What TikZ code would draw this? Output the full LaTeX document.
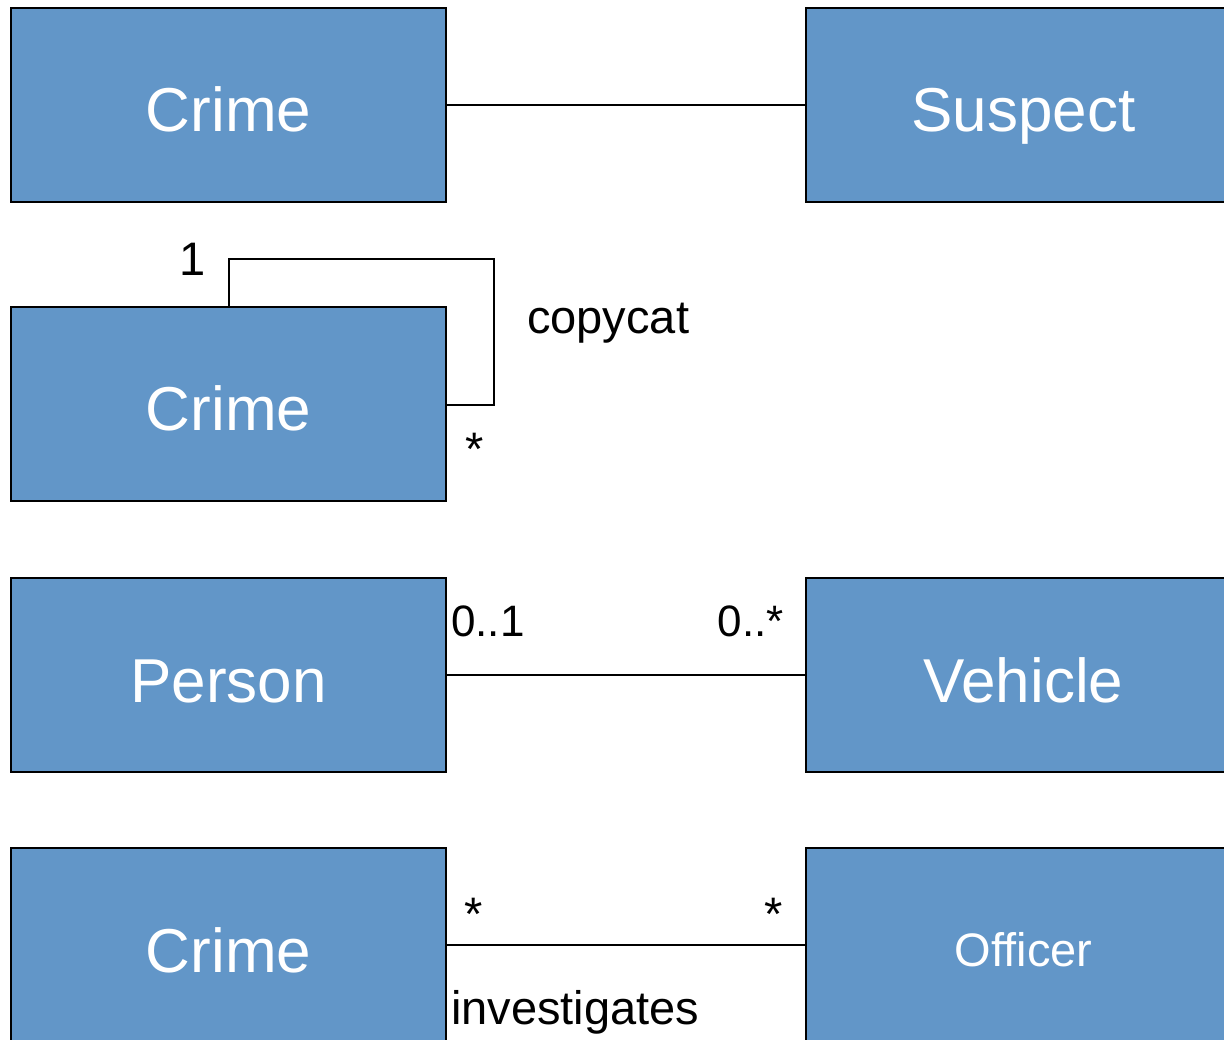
\documentclass[tikz,border=0pt]{standalone}
\usepackage{fontspec}
\setmainfont{Liberation Sans}
\begin{document}
\begin{tikzpicture}[x=1pt,y=-1pt,
  classbox/.style={draw=black,line width=1.4pt,fill=boxblue,minimum width=435pt,minimum height=194pt,inner sep=0pt,text=white,text height=54pt,text depth=0pt,font=\fontsize{62}{70}\selectfont},
  smallclass/.style={classbox,text height=42pt,font=\fontsize{47}{54}\selectfont},
  assoc/.style={draw=black,line width=1.3pt},
  lbl/.style={inner sep=0pt,font=\fontsize{47}{54}\selectfont},
  mult/.style={lbl,font=\fontsize{44}{50}\selectfont}]
\definecolor{boxblue}{RGB}{98,150,200}
\useasboundingbox (0,0) rectangle (1224,1040);
\clip (0,0) rectangle (1224,1040);

% row 1: plain association
\node[classbox] (crimeA) at (228.5,105) {Crime};
\node[classbox] (suspect) at (1023.5,105) {Suspect};
\draw[assoc] (crimeA.east) -- (suspect.west);

% row 2: reflexive association
\node[classbox] (crimeB) at (228.5,404) {Crime};
\coordinate (loopA) at (229,259);
\coordinate (loopB) at (494,259);
\coordinate (loopC) at (494,405);
\draw[assoc] (crimeB.north -| loopA) -- (loopA) -- (loopB) -- (loopC) -- (crimeB.east |- loopC);
\node[lbl,anchor=base] (mulOne) at (193,276) {1};
\node[lbl,anchor=base west] (copycat) at (527,334) {copycat};
\node[lbl,anchor=base] (mulMany) at (475,466) {*};

% row 3: multiplicities on both ends
\node[classbox] (person) at (228.5,675) {Person};
\node[classbox] (vehicle) at (1023.5,675) {Vehicle};
\draw[assoc] (person.east) -- (vehicle.west);
\node[mult,anchor=base west] (mulP) at (451,636) {0..1};
\node[mult,anchor=base east] (mulV) at (784,636) {0..*};

% row 4: named many-to-many association
\node[classbox] (crimeC) at (228.5,945) {Crime};
\node[smallclass] (officer) at (1023.5,945) {Officer};
\draw[assoc] (crimeC.east) -- (officer.west);
\node[lbl,anchor=base] (mulC) at (474,930) {*};
\node[lbl,anchor=base] (mulO) at (774,930) {*};
\node[lbl,anchor=base west] (invest) at (451,1024) {investigates};
\end{tikzpicture}
\end{document}
